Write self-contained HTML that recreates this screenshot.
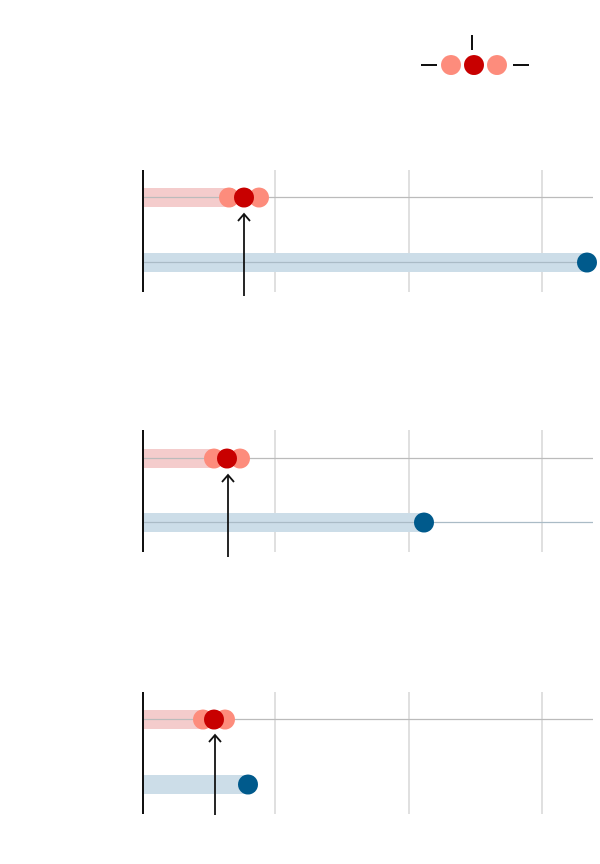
<!DOCTYPE html>
<html><head><style>body{margin:0;background:#fff}svg{display:block}</style></head><body>
<svg width="600" height="864" xmlns="http://www.w3.org/2000/svg">
<defs><marker id="a" viewBox="0 0 10 10" refX="5" refY="1" markerWidth="14" markerHeight="14" markerUnits="userSpaceOnUse" orient="auto-start-reverse"></marker></defs>
<!-- legend -->
<line x1="472" y1="35" x2="472" y2="50" stroke="#111" stroke-width="2"/>
<line x1="421" y1="65" x2="437" y2="65" stroke="#111" stroke-width="2"/>
<line x1="513" y1="65" x2="529" y2="65" stroke="#111" stroke-width="2"/>
<circle cx="451" cy="65" r="10" fill="#fd8c7c"/>
<circle cx="474" cy="65" r="10" fill="#c80000"/>
<circle cx="497" cy="65" r="10" fill="#fd8c7c"/>

<g id="p1">
<g stroke="#d6d6d6" stroke-width="1.5"><line x1="275" y1="170" x2="275" y2="292"/><line x1="409" y1="170" x2="409" y2="292"/><line x1="542" y1="170" x2="542" y2="292"/></g>
<rect x="143" y="188" width="90" height="19" fill="#f4cccc"/>
<line x1="143" y1="197.5" x2="593" y2="197.5" stroke="#bbb" stroke-width="1.2"/>
<rect x="143" y="253" width="444" height="19" fill="#ccdde8"/>
<line x1="143" y1="262.5" x2="593" y2="262.5" stroke="#aabbc6" stroke-width="1.2"/>
<circle cx="229" cy="197.5" r="10" fill="#fd8c7c"/>
<circle cx="259" cy="197.5" r="10" fill="#fd8c7c"/>
<circle cx="244" cy="197.5" r="10" fill="#c80000"/>
<circle cx="587" cy="262.5" r="10" fill="#005a8c"/>
<line x1="143" y1="170" x2="143" y2="292" stroke="#111" stroke-width="2"/>
<line x1="244" y1="296" x2="244" y2="214" stroke="#111" stroke-width="1.8"/>
<polyline points="238,221 244,214 250,221" fill="none" stroke="#111" stroke-width="1.8"/>
</g>

<g>
<g stroke="#d6d6d6" stroke-width="1.5"><line x1="275" y1="430" x2="275" y2="552"/><line x1="409" y1="430" x2="409" y2="552"/><line x1="542" y1="430" x2="542" y2="552"/></g>
<rect x="143" y="449" width="72" height="19" fill="#f4cccc"/>
<line x1="143" y1="458.5" x2="593" y2="458.5" stroke="#bbb" stroke-width="1.2"/>
<rect x="143" y="513" width="281" height="19" fill="#ccdde8"/>
<line x1="143" y1="522.5" x2="593" y2="522.5" stroke="#aabbc6" stroke-width="1.2"/>
<circle cx="214" cy="458.5" r="10" fill="#fd8c7c"/>
<circle cx="240" cy="458.5" r="10" fill="#fd8c7c"/>
<circle cx="227" cy="458.5" r="10" fill="#c80000"/>
<circle cx="424" cy="522.5" r="10" fill="#005a8c"/>
<line x1="143" y1="430" x2="143" y2="552" stroke="#111" stroke-width="2"/>
<line x1="228" y1="557" x2="228" y2="475" stroke="#111" stroke-width="1.8"/>
<polyline points="222,482 228,475 234,482" fill="none" stroke="#111" stroke-width="1.8"/>
</g>

<g>
<g stroke="#d6d6d6" stroke-width="1.5"><line x1="275" y1="692" x2="275" y2="814"/><line x1="409" y1="692" x2="409" y2="814"/><line x1="542" y1="692" x2="542" y2="814"/></g>
<rect x="143" y="710" width="62" height="19" fill="#f4cccc"/>
<line x1="143" y1="719.5" x2="593" y2="719.5" stroke="#bbb" stroke-width="1.2"/>
<rect x="143" y="775" width="105" height="19" fill="#ccdde8"/>
<circle cx="203" cy="719.5" r="10" fill="#fd8c7c"/>
<circle cx="225" cy="719.5" r="10" fill="#fd8c7c"/>
<circle cx="214" cy="719.5" r="10" fill="#c80000"/>
<circle cx="248" cy="784.5" r="10" fill="#005a8c"/>
<line x1="143" y1="692" x2="143" y2="814" stroke="#111" stroke-width="2"/>
<line x1="215" y1="815" x2="215" y2="735" stroke="#111" stroke-width="1.8"/>
<polyline points="209,742 215,735 221,742" fill="none" stroke="#111" stroke-width="1.8"/>
</g>
</svg>
</body></html>
